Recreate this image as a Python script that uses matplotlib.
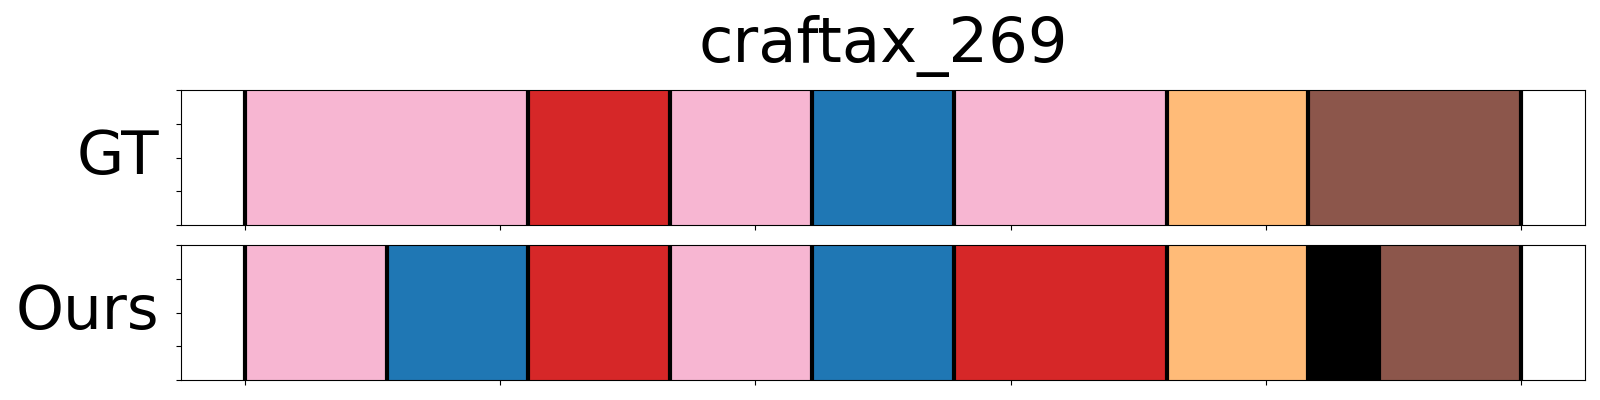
import matplotlib
matplotlib.use("Agg")
import matplotlib.pyplot as plt
import numpy as np

title = "craftax_269"
row_labels = ["GT", "Ours"]
total_len = 18

# segments: (start, end, color)
gt_starts = [0, 4, 6, 8, 10, 13, 15]
gt_ends = [4, 6, 8, 10, 13, 15, 18]
gt_colors = ["#f7b6d2", "#d62728", "#f7b6d2", "#1f77b4", "#f7b6d2", "#ffbb78", "#8c564b"]

ours_starts = [0, 2, 4, 6, 8, 10, 13, 15, 16]
ours_ends = [2, 4, 6, 8, 10, 13, 15, 16, 18]
ours_colors = ["#f7b6d2", "#1f77b4", "#d62728", "#f7b6d2", "#1f77b4", "#d62728", "#ffbb78", "#000000", "#8c564b"]

rows = [(gt_starts, gt_ends, gt_colors), (ours_starts, ours_ends, ours_colors)]

fig = plt.figure(figsize=(16, 4), dpi=100)
left = 181 / 1600
width = (1585 - 181) / 1600
axes_rects = [
    [left, 1 - 225 / 400, width, 135 / 400],
    [left, 1 - 380 / 400, width, 135 / 400],
]

label_x = [(159 - 181) / 1404, (159 - 181) / 1404]

for i, ((starts, ends, colors), rect) in enumerate(zip(rows, axes_rects)):
    ax = fig.add_axes(rect)
    for s, e, c in zip(starts, ends, colors):
        ax.axvspan(s, e, ymin=0, ymax=1, color=c, linewidth=0.5)
    bounds = sorted(set(starts) | set(ends))
    for b in bounds:
        ax.axvline(b, color="black", linewidth=3)
    ax.set_xlim(-0.05 * total_len, 1.05 * total_len)
    ax.set_ylim(0, 1)
    ax.set_xticks(np.linspace(0, total_len, 6))
    ax.set_xticklabels([])
    ax.set_yticks([0, 0.25, 0.5, 0.75, 1.0])
    ax.set_yticklabels([])
    ax.set_ylabel(row_labels[i], rotation=0, fontsize=44, ha="right", va="center")
    ax.yaxis.set_label_coords(label_x[i], 0.5)
    if i == 0:
        ax.set_title(title, fontsize=45, pad=20)

fig.savefig("out.png", dpi=100)
